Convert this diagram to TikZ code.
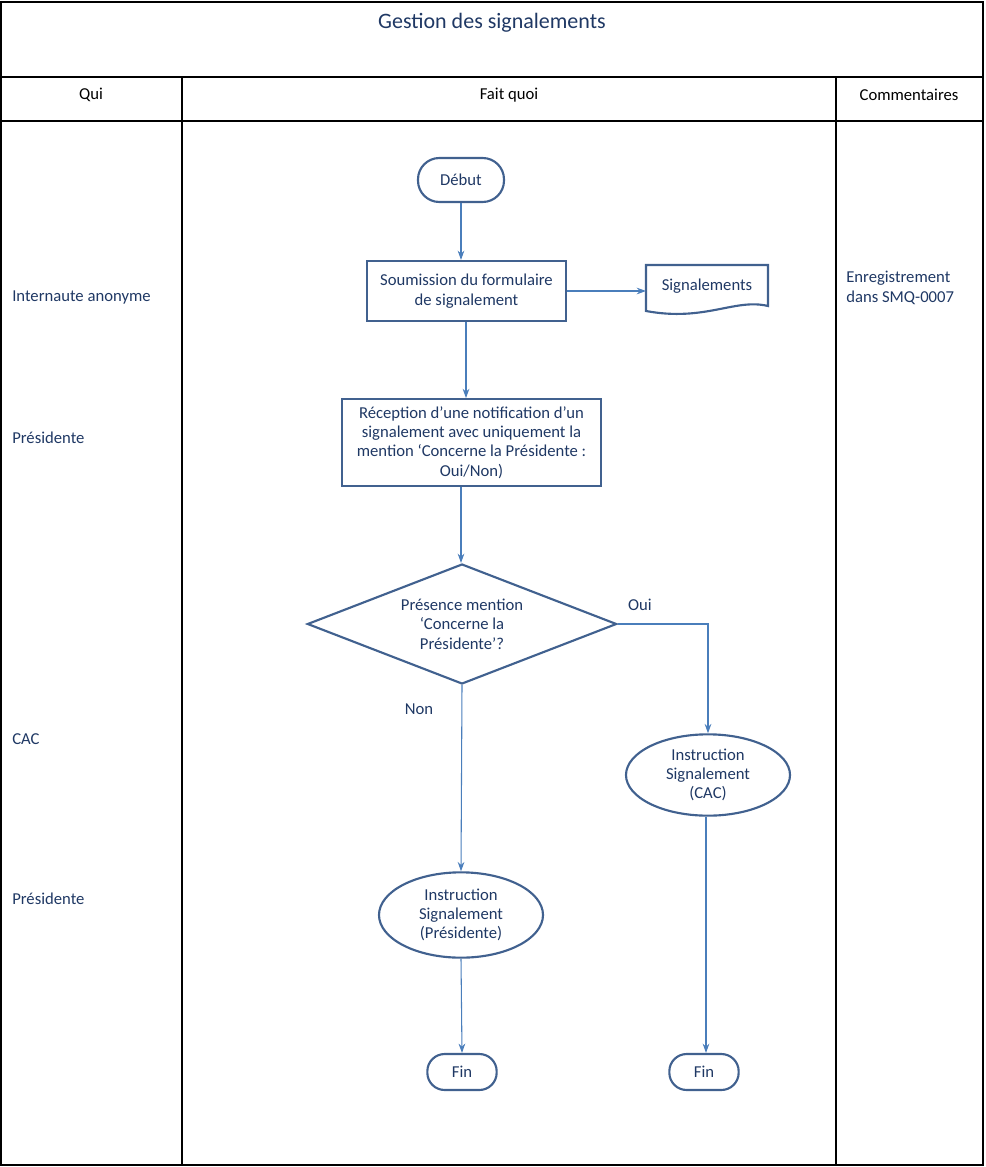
\documentclass[tikz,border=0pt]{standalone}
\usepackage{fontspec}
\setmainfont{Carlito}
\usetikzlibrary{arrows.meta,shapes.geometric}
\definecolor{txtblue}{RGB}{31,56,100}
\definecolor{boxblue}{RGB}{65,97,143}
\definecolor{arrblue}{RGB}{74,126,187}
\tikzset{
	box/.style={draw=boxblue,line width=1.6pt,align=center,text=txtblue,font=\fontsize{12.5}{14.5}\selectfont},
	lbl/.style={text=txtblue,font=\fontsize{12.5}{14.5}\selectfont,inner sep=0pt},
	flow/.style={draw=arrblue,line width=0.8pt,-{Stealth[length=7pt,width=5pt]}}
}
\begin{document}
\begin{tikzpicture}[x=0.75pt,y=0.75pt,yscale=-1]
	\useasboundingbox (0,0) rectangle (985,1167);
	
	%table frame
	\draw [line width=0.8pt] (1,2) rectangle (983,1165);
	\draw [line width=0.8pt] (1,77) -- (983,77);
	\draw [line width=0.8pt] (1,121) -- (983,121);
	\draw [line width=0.8pt] (182,77) -- (182,1165);
	\draw [line width=0.8pt] (836,77) -- (836,1165);
	\node [lbl,font=\fontsize{16.5}{19}\selectfont] (title) at (492,23) {Gestion des signalements};
	\node [lbl,text=black] (qui) at (91,95) {Qui};
	\node [lbl,text=black] (quoi) at (509,95) {Fait quoi};
	\node [lbl,text=black] (comm) at (909,95) {Commentaires};
	
	%who
	\node [lbl,anchor=west] (w1) at (12,297) {Internaute anonyme};
	\node [lbl,anchor=west] (w2) at (12,438) {Présidente};
	\node [lbl,anchor=west] (w3) at (12,739) {CAC};
	\node [lbl,anchor=west] (w4) at (12,899) {Présidente};
	\node [lbl,anchor=west,align=left] (c1) at (846,288) {Enregistrement\\dans SMQ-0007};
	
	%flow
	\node [box,rounded corners=16pt,minimum width=64.5pt,minimum height=33pt] (debut) at (461,180) {Début};
	\node [box,minimum width=149pt,minimum height=45pt] (soum) at (466.5,291) {Soumission du formulaire\\de signalement};
	\path [draw=boxblue,line width=1.6pt] (646,265) -- (768,265) -- (768,306) .. controls (735,298) and (705,322) .. (646,311) -- cycle;
	\node [lbl] (sig) at (707,286) {Signalements};
	\coordinate (sigw) at (646,291);
	\node [box,minimum width=194pt,minimum height=65pt,inner sep=1pt] (recep) at (471.5,442.5) {Réception d’une notification d’un\\signalement avec uniquement la\\mention ‘Concerne la Présidente :\\Oui/Non)};
	\node [box,diamond,aspect=2.56,minimum width=232pt,minimum height=90pt,inner sep=0pt] (pres) at (462,624) {};
	\node [lbl,align=center] (prestxt) at (462,624) {Présence mention\\‘Concerne la\\Présidente’?};
	\node [box,ellipse,minimum width=123pt,minimum height=61pt,inner sep=0pt] (icac) at (708,775) {Instruction\\Signalement\\(CAC)};
	\node [box,ellipse,minimum width=123pt,minimum height=64pt,inner sep=0pt] (ipres) at (461,915) {Instruction\\Signalement\\(Présidente)};
	\node [box,rounded corners=13pt,minimum width=52pt,minimum height=27pt] (fin1) at (462,1072) {Fin};
	\node [box,rounded corners=13pt,minimum width=52pt,minimum height=27pt] (fin2) at (704,1072) {Fin};
	\node [lbl] (oui) at (640,605) {Oui};
	\node [lbl] (non) at (419,709) {Non};
	
	\draw [flow] (debut) -- (soum.north -| debut);
	\draw [flow] (soum.east |- sigw) -- (sigw);
	\draw [flow] (soum.south -| 466,0) -- (recep.north -| 466,0);
	\draw [flow] (recep.south -| 461,0) -- (pres.north -| 461,0);
	\draw [flow] (pres.east) -| (icac.north);
	\draw [flow] (pres.south) -- (ipres.north);
	\draw [flow] (ipres.south) -- (fin1.north);
	\draw [flow] (icac.south -| 706,0) -- (fin2.north -| 706,0);
\end{tikzpicture}
\end{document}
